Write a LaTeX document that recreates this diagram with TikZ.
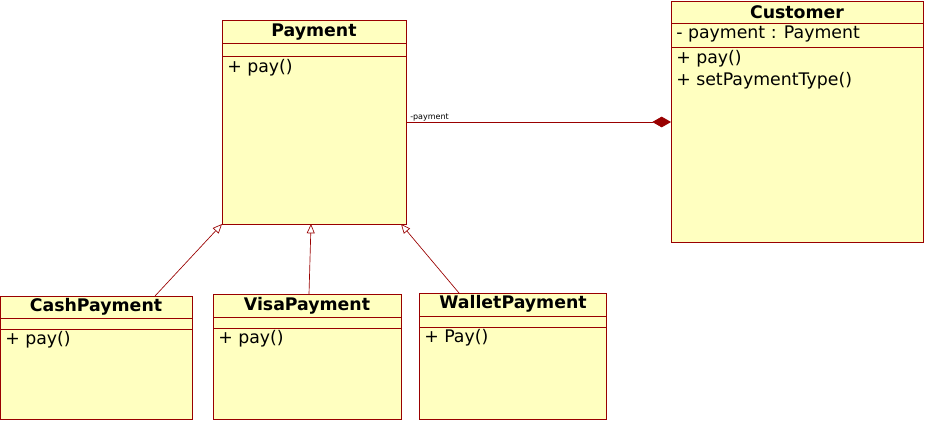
\documentclass[tikz,border=0pt]{standalone}
\usepackage{fontspec}
\setmainfont{DejaVu Sans}
\usetikzlibrary{arrows.meta}
\definecolor{bfill}{HTML}{FFFFC0}
\definecolor{bline}{HTML}{990000}
\begin{document}
\begin{tikzpicture}[x=0.75pt,y=-0.75pt,
  box/.style={draw=bline,fill=bfill,line width=0.6pt},
  ttl/.style={font=\bfseries\fontsize{13}{15}\selectfont,anchor=center,inner sep=0},
  txt/.style={font=\fontsize{13}{15}\selectfont,anchor=north west,inner sep=0},
  sep/.style={draw=bline,line width=0.6pt},
  inh/.style={draw=bline,line width=0.5pt,-{Triangle[open,length=7pt,width=6pt,fill=white]}}]
\useasboundingbox (0,0) rectangle (927,421);
% Payment
\draw[box] (222,20) rectangle (406,224);
\coordinate (pay) at (222,20);
\draw[sep] (222,43) -- (406,43); \draw[sep] (222,56) -- (406,56);
\node[ttl] (payt) at (314,32) {Payment};
\node[txt] (paym) at (227,59) {+ pay()};
% Customer
\draw[box] (671,1) rectangle (923,242);
\draw[sep] (671,23) -- (923,23); \draw[sep] (671,47) -- (923,47);
\node[ttl] (cust) at (797,12) {Customer};
\node[txt] (custa) at (676,26) {- payment : Payment};
\node[txt] (custm) at (676,50) {+ pay()\\[-1pt]};
\node[txt] (custm2) at (676,72) {+ setPaymentType()};
% Cash
\draw[box] (0,296) rectangle (192,419);
\draw[sep] (0,318) -- (192,318); \draw[sep] (0,329) -- (192,329);
\node[ttl] (casht) at (96,307) {CashPayment};
\node[txt] (cashm) at (5,331) {+ pay()};
% Visa
\draw[box] (213,294) rectangle (401,419);
\draw[sep] (213,317) -- (401,317); \draw[sep] (213,328) -- (401,328);
\node[ttl] (visat) at (307,306) {VisaPayment};
\node[txt] (visam) at (218,330) {+ pay()};
% Wallet
\draw[box] (419,293) rectangle (606,419);
\draw[sep] (419,316) -- (606,316); \draw[sep] (419,327) -- (606,327);
\node[ttl] (walt) at (513,304) {WalletPayment};
\node[txt] (walm) at (424,329) {+ Pay()};
% coordinates
\coordinate (pr) at (406,122);
\coordinate (cl) at (671,122);
\coordinate (cb) at (155,296); \coordinate (pb1) at (222,224);
\coordinate (vb) at (309,294); \coordinate (pb2) at (311,224);
\coordinate (wb) at (459,293); \coordinate (pb3) at (401,224);
\draw[draw=bline,line width=0.6pt,-{Diamond[length=14pt,width=8pt,fill=bline]}] (pr) -- (cl);
\node[font=\fontsize{6}{7}\selectfont,anchor=south west,inner sep=0] (lbl) at (410,121) {-payment};
\draw[inh] (cb) -- (pb1);
\draw[inh] (vb) -- (pb2);
\draw[inh] (wb) -- (pb3);
\end{tikzpicture}
\end{document}
